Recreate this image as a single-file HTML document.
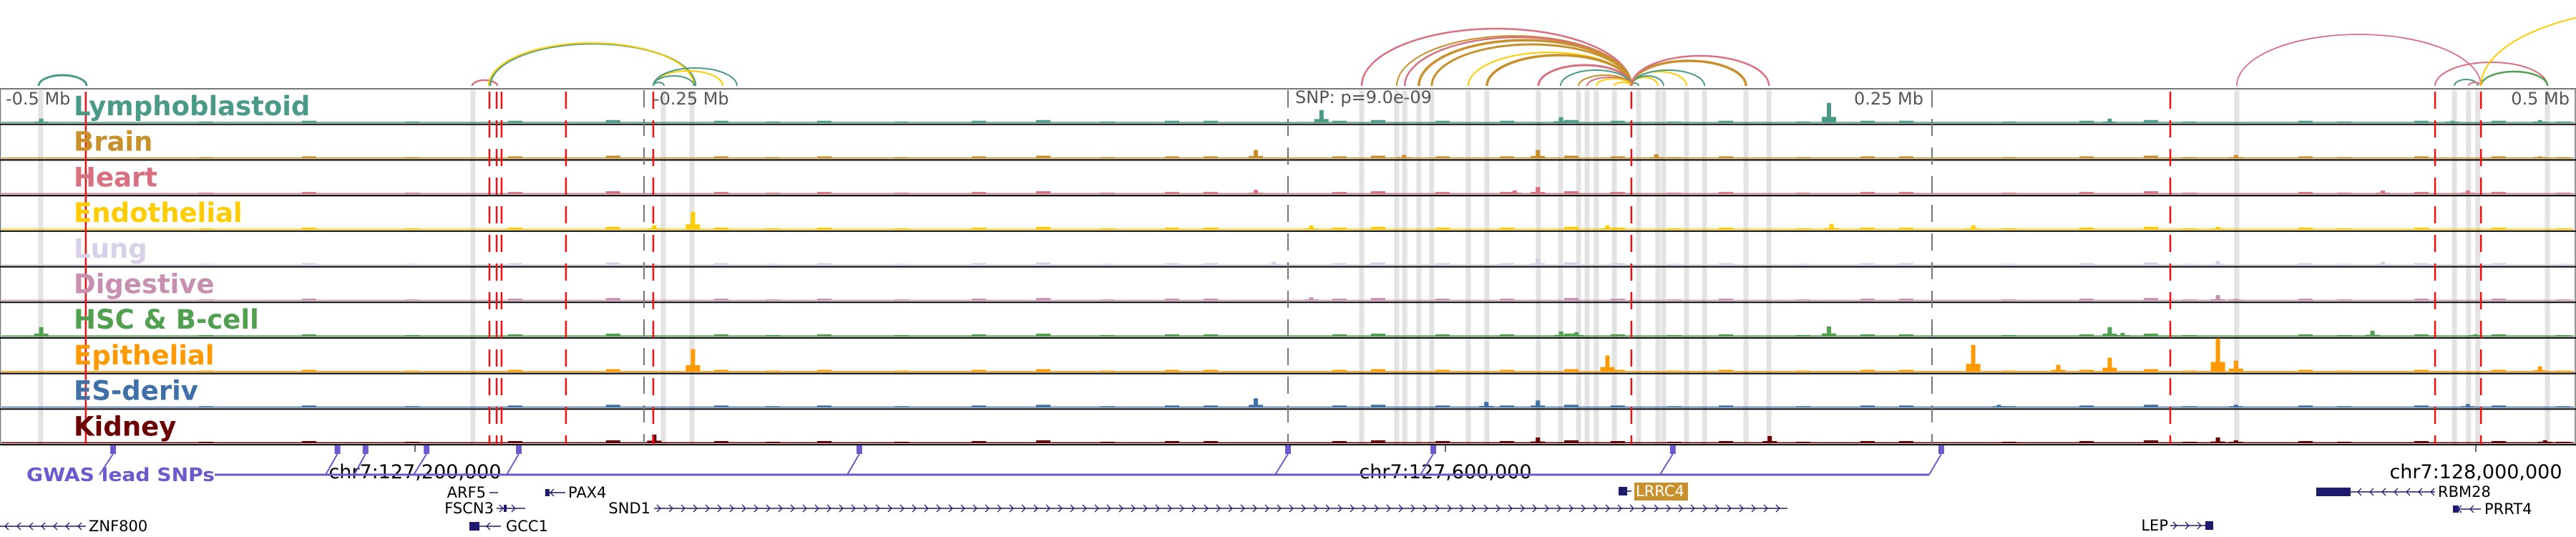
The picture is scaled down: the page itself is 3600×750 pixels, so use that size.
<!DOCTYPE html>
<html><head><meta charset="utf-8">
<style>
html,body{margin:0;padding:0;background:#fff;}
svg{display:block;font-family:"DejaVu Sans","Liberation Sans",sans-serif;}
</style></head>
<body>
<svg id="chart" width="3600" height="750" viewBox="0 0 3600 750" xmlns="http://www.w3.org/2000/svg">
  <defs><clipPath id="clipAll"><rect x="0" y="0" width="3600" height="750"/></clipPath></defs>
  <g id="bands"></g>
  <g id="arcs" clip-path="url(#clipAll)"></g>
  <g id="tracks"></g>
  <g id="vlines"></g>
  <g id="labels"></g>
  <g id="axisTexts">
    <text x="8" y="146" font-size="24" fill="#555">-0.5 Mb</text>
    <text x="913" y="146" font-size="24" fill="#555">-0.25 Mb</text>
    <text x="1810" y="144" font-size="24" fill="#555">SNP: p=9.0e-09</text>
    <text x="2688" y="146" font-size="24" fill="#555" text-anchor="end">0.25 Mb</text>
    <text x="3591" y="146" font-size="24" fill="#555" text-anchor="end">0.5 Mb</text>
  </g>
  <g id="gwas">
    <text x="37" y="672" font-size="26" font-weight="bold" fill="#6a5acd" textLength="263" lengthAdjust="spacingAndGlyphs">GWAS lead SNPs</text>
  </g>
  <g id="genes"></g>
</svg>
<script>
// ---- data ----
const trackNames = ["Lymphoblastoid","Brain","Heart","Endothelial","Lung","Digestive","HSC & B-cell","Epithelial","ES-deriv","Kidney"];
const trackColors = ["#4a9a87","#c8902a","#d87080","#ffcc00","#d8d0e8","#c890b0","#50a050","#ff9900","#4070a8","#6b0000"];
// peaks: [kb offset from SNP, height px]
const peaksLymph = [[-484,6],[13,18],[106,8],[210,28],[319,6],[452,3],[486,4]];
const peaksBrain = [[-12.5,12],[45,5],[97,12],[143,6],[368,5],[486,3]];
const peaksHeart = [[-12.5,6],[88,5],[97,10],[425,5],[458,5]];
const peaksEndo = [[-231,25],[-246,6],[9,6],[124,6],[211,8],[266,6],[361,4]];
const peaksLung = [[-5.5,5],[97,10],[361,6],[425,5]];
const peaksDig = [[9,5],[361,8],[368,3]];
const peaksHSC = [[-484,13],[106,7],[112,6],[210,14],[319,13],[324,5],[421,8],[461,3]];
const peaksEpi = [[-231,32],[124,23],[266,38],[299,10],[319,20],[361,47],[368,16],[486,8]];
const peaksES = [[-12.5,13],[77,8],[97,10],[276,4],[368,4],[458,5]];
const peaksKid = [[-246,12],[97,8],[187,10],[361,8],[368,4],[488,4]];
const trackPeaks = [peaksLymph,peaksBrain,peaksHeart,peaksEndo,peaksLung,peaksDig,peaksHSC,peaksEpi,peaksES,peaksKid];
// shared low background bins: kb offsets and heights
const bgKb = [-420,-380,-340,-300,-262,-220,-200,-180,-150,-120,-95,-70,-45,-30,20,35,60,85,110,128,150,170,200,225,240,280,310,335,350,395,410,440,470,495];
const bgH  = [2,3,2,3,4,3,2,3,2,3,4,2,3,3,3,4,3,3,4,3,2,3,2,3,3,2,3,4,2,3,2,3,3,2];
// gray highlight bands: kb offsets
const bandKb = [-484.2,-316.4,-242.5,-231.4,28.6,42.2,45.3,50.8,55.8,70,77.2,97.2,105.8,112.8,116.1,119.7,126.7,136.1,143.6,145.8,154.7,161.7,177.8,186.7,368.3,452.8,458.3,461.9,488.9];
// red variant lines: kb offsets
const redKb = [-310,-307.2,-305.3,-280.3,-246.4,133.3,342.5,445.3,463.1];
const redSolidKb = [-466.7];
const gridKb = [-250,0,250];
// arcs: start kb, end kb, height px, color index, width
const arcStart = [-485,-316.7,-309.7,-310.3,-246.4,-246.4,-246.4,-246.4,28.6,42.2,45.3,50.8,55.8,70,77.2,97.2,105.8,112.8,116.1,119.7,126.7,133.3,133.3,133.3,133.3,133.3,133.3,133.3,368.3,445.3,452.8,458.3,463.1,463.1];
const arcEnd   = [-466.4,-306.9,-230,-230.6,-242.2,-219.4,-213.9,-230.6,133.3,133.3,133.3,133.3,133.3,133.3,133.3,133.3,133.3,133.3,133.3,133.3,133.3,136.1,143.6,145.8,154.7,161.7,177.8,186.7,463.1,488.9,461.9,463.1,488.9,611];
const arcHeight= [15,8,59,60,5,21,25,14,80,70,68,64,58,47,43,29,22,15,12,10,5,4,12,14,20,22,35,42,72,33,9,5,20,110];
const arcColor = [0,2,0,3,0,3,0,0,2,1,2,1,1,3,1,2,0,1,2,3,3,0,3,0,3,0,1,2,2,2,0,2,6,3];
const arcWidth = [3,2.5,2.5,2,2,2,2,2,2.5,2,2.5,3.5,3,2,3.5,3,2,2,2,2,2,2,2,2,2,2,3.5,2.5,1.8,2,2,2,2.5,2];
// GWAS lead SNP markers: kb offsets and their connector end kb
const gwasKb = [-456.1,-369,-358.1,-334.4,-298.6,-166.4,0,56.4,149.4,253.6];
const gwasEndKb = [-461.4,-373.6,-362.5,-339.4,-303.3,-171.1,-5,51.4,144.4,248.9];
const chrTicks = [127200000,127600000,128000000];
const chrTickLabels = ["chr7:127,200,000","chr7:127,600,000","chr7:128,000,000"];

// ---- scales ----
const snpPos = 127538889;
function xKb(kb){ return 1800 + kb*3.6; }
function xGen(p){ return xKb((p - snpPos)/1000); }
const TOP = 124, TH = 49.7;
function trackTop(i){ return TOP + i*TH; }
const NS = "http://www.w3.org/2000/svg";
function mk(tag, attrs, parent){ const e=document.createElementNS(NS,tag); for(const k in attrs) e.setAttribute(k,attrs[k]); parent.appendChild(e); return e; }
const BOTTOM = trackTop(10);

// bands
const gB = document.getElementById('bands');
bandKb.forEach(kb=>{
  const r = mk('rect',{x:xKb(kb)-3.5,y:TOP+2,width:7,height:BOTTOM-TOP-2,fill:'#e3e3e3'},gB);
  
  
});

// arcs
const gA = document.getElementById('arcs');
const arcPalette = ["#4a9a87","#c8902a","#d87080","#ffcc00","#d8d0e8","#c890b0","#50a050"];
arcStart.forEach((s,i)=>{
  const x1=xKb(s), x2=xKb(arcEnd[i]), h=arcHeight[i], y=120;
  const rx=(x2-x1)/2;
  const p = mk('path',{d:`M${x1},${y} A${rx},${h} 0 0 1 ${x2},${y}`,fill:'none',stroke:arcPalette[arcColor[i]],'stroke-width':arcWidth[i]},gA);
  
  
});

// panel border
const gT = document.getElementById('tracks');
mk('line',{x1:0,y1:TOP,x2:3600,y2:TOP,stroke:'#777','stroke-width':2},gT);
mk('line',{x1:0.5,y1:TOP,x2:0.5,y2:BOTTOM,stroke:'#777','stroke-width':1.5},gT);
mk('line',{x1:3599,y1:TOP,x2:3599,y2:BOTTOM,stroke:'#777','stroke-width':1.5},gT);

// tracks
for(let i=0;i<10;i++){
  const g = mk('g',{},gT);
  
  
  const base = trackTop(i+1)-2;
  mk('rect',{x:2,y:base-1.5,width:3595,height:1.5,fill:trackColors[i]},g);
  bgKb.forEach((kb,j)=>{
    const b = mk('rect',{x:xKb(kb)-10,y:base-bgH[j],width:20,height:bgH[j],fill:trackColors[i]},g);
    
    
  });
  trackPeaks[i].forEach(([kb,h])=>{
    const x=xKb(kb);
    const sh = mk('rect',{x:x-10,y:base-Math.max(2,h*0.3),width:20,height:Math.max(2,h*0.3),fill:trackColors[i]},g);
    
    
    const b = mk('rect',{x:x-3,y:base-h,width:6,height:h,fill:trackColors[i]},g);
    
    
  });
  mk('line',{x1:0,y1:trackTop(i+1),x2:3600,y2:trackTop(i+1),stroke:'#111','stroke-width':2.2},g);
}

// vertical lines
const gV = document.getElementById('vlines');
gridKb.forEach(kb=>{
  const l = mk('line',{x1:xKb(kb),y1:TOP+2,x2:xKb(kb),y2:BOTTOM,stroke:'#777','stroke-width':2,'stroke-dasharray':'24 16'},gV);
  
  
});
redKb.forEach(kb=>{
  const l = mk('line',{x1:xKb(kb),y1:TOP+4,x2:xKb(kb),y2:BOTTOM,stroke:'#ee1111','stroke-width':2.5,'stroke-dasharray':'24 16'},gV);
  
  
});
redSolidKb.forEach(kb=>{
  const l = mk('line',{x1:xKb(kb),y1:TOP+4,x2:xKb(kb),y2:BOTTOM,stroke:'#ee1111','stroke-width':2.5},gV);
  
  
});

// labels
const gL = document.getElementById('labels');
trackNames.forEach((n,i)=>{
  const t = mk('text',{x:103,y:trackTop(i)+37,'font-size':37,'font-weight':'bold',fill:trackColors[i]},gL);
  t.textContent = n;
  
  
});

// chr ticks
const gG = document.getElementById('gwas');
chrTicks.forEach((p,i)=>{
  const x = xGen(p);
  mk('line',{x1:x,y1:BOTTOM,x2:x,y2:BOTTOM+10,stroke:'#333','stroke-width':1.5},gG);
  const t = mk('text',{x:x,y:668,'font-size':27,'text-anchor':'middle',fill:'#000'},gG);
  t.textContent = chrTickLabels[i];
  
  
});
// gwas line
const gl = mk('line',{x1:300,y1:663,x2:xKb(gwasEndKb[gwasEndKb.length-1]),y2:663,stroke:'#6a5acd','stroke-width':3},gG);


gwasKb.forEach((kb,i)=>{
  const x=xKb(kb);
  const m = mk('rect',{x:x-4,y:622,width:8,height:12,fill:'#6a5acd'},gG);
  
  
  mk('line',{x1:x,y1:634,x2:xKb(gwasEndKb[i]),y2:663,stroke:'#6a5acd','stroke-width':2},gG);
});

// genes
const gN = document.getElementById('genes');
const NAVY = '#1e1a6e';
function chevrons(x1,x2,y,dir,step){
  for(let x=x1+8;x<x2-4;x+=step){
    const d = dir>0 ? `M${x-4},${y-5} L${x+1},${y} L${x-4},${y+5}` : `M${x+4},${y-5} L${x-1},${y} L${x+4},${y+5}`;
    mk('path',{d:d,fill:'none',stroke:NAVY,'stroke-width':1.3},gN);
  }
}
function gene(name,lx,ly,anchor,x1,x2,y,dir,blocks,boxed){
  const g = mk('g',{},gN);
  
  
  if(x2>x1){ mk('line',{x1:x1,y1:y,x2:x2,y2:y,stroke:NAVY,'stroke-width':1.5},g); }
  blocks.forEach(b=>mk('rect',{x:b[0],y:y-b[2]/2,width:b[1]-b[0],height:b[2],fill:NAVY},g));
  if(boxed){ mk('rect',{x:lx-2,y:ly-19,width:75,height:25,fill:'#c8902a'},g); }
  const t = mk('text',{x:lx,y:ly,'font-size':21,'text-anchor':anchor,fill:boxed?'#fff':'#000'},g);
  t.textContent = name;
  if(x2>x1) chevrons(x1,x2,y,dir,17);
}
gene('ARF5',679,695,'end',684,696,688,1,[],false);
gene('PAX4',794,695,'start',762,790,688,-1,[[762,768,10]],false);
gene('FSCN3',690,717,'end',694,734,710,1,[[704,708,10]],false);
gene('SND1',909,717,'end',914,2498,710,1,[],false);
gene('GCC1',707,742,'start',656,700,735,-1,[[656,670,12]],false);
gene('ZNF800',124,742,'start',0,120,735,-1,[],false);
gene('LRRC4',2286,693,'start',2262,2280,686,-1,[[2262,2274,12]],true);
gene('RBM28',3407,694,'start',3237,3403,687,-1,[[3237,3285,12]],false);
gene('PRRT4',3472,718,'start',3428,3467,711,-1,[[3428,3436,10]],false);
gene('LEP',3030,741,'end',3033,3093,734,1,[[3082,3093,12]],false);
</script>
</body></html>
